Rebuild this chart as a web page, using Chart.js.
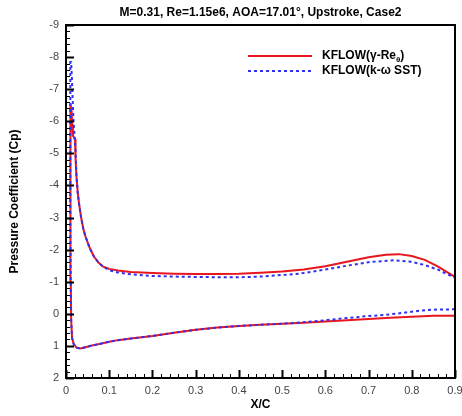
<!DOCTYPE html>
<html>
<head>
<meta charset="utf-8">
<script src="https://cdn.jsdelivr.net/npm/chart.js@4/dist/chart.umd.min.js"></script>
<style>
  html, body { margin: 0; padding: 0; background: #fff; }
  #wrap { width: 462px; height: 416px; }
</style>
</head>
<body>
<div id="wrap"><canvas id="cpChart" width="462" height="416"></canvas></div>
<script>
// KFLOW(gamma-Re_theta): lower surface TE -> LE, then upper surface LE -> TE
const redX = [0.9, 0.85, 0.8, 0.75, 0.7, 0.65, 0.6, 0.55, 0.5, 0.45, 0.4, 0.35, 0.3, 0.25, 0.2, 0.15, 0.12, 0.1, 0.08, 0.06, 0.045, 0.033, 0.025, 0.018, 0.014, 0.012, 0.011, 0.010, 0.010, 0.010, 0.011,
  0.013, 0.014, 0.016, 0.021, 0.022, 0.024, 0.027, 0.03, 0.035, 0.04, 0.045, 0.055, 0.064, 0.075, 0.086, 0.1, 0.12, 0.15, 0.2, 0.25, 0.3, 0.35, 0.4, 0.45, 0.5, 0.55, 0.6, 0.65, 0.7, 0.74, 0.77, 0.8, 0.83, 0.86, 0.9];
const redCp = [0.06, 0.06, 0.09, 0.12, 0.16, 0.2, 0.24, 0.28, 0.31, 0.34, 0.38, 0.43, 0.5, 0.59, 0.69, 0.77, 0.82, 0.87, 0.93, 0.99, 1.04, 1.08, 1.06, 0.95, 0.75, 0.2, -1, -3, -5, -6.2, -6.55,
  -6.3, -5.9, -5.55, -5.45, -4.9, -4.3, -3.8, -3.45, -3.0, -2.65, -2.41, -2.05, -1.8, -1.6, -1.47, -1.4, -1.35, -1.3, -1.27, -1.25, -1.24, -1.24, -1.25, -1.28, -1.32, -1.38, -1.48, -1.62, -1.76, -1.84, -1.86, -1.8, -1.68, -1.48, -1.15];

// KFLOW(k-omega SST)
const blueX = [0.9, 0.85, 0.82, 0.78, 0.74, 0.7, 0.65, 0.6, 0.55, 0.5, 0.45, 0.4, 0.35, 0.3, 0.25, 0.2, 0.15, 0.12, 0.1, 0.08, 0.06, 0.045, 0.033, 0.025, 0.018, 0.014, 0.012, 0.011, 0.010, 0.010, 0.010, 0.010,
  0.012, 0.014, 0.017, 0.022, 0.024, 0.027, 0.03, 0.035, 0.04, 0.045, 0.055, 0.064, 0.075, 0.086, 0.1, 0.12, 0.15, 0.2, 0.25, 0.3, 0.35, 0.4, 0.45, 0.5, 0.54, 0.6, 0.65, 0.7, 0.76, 0.8, 0.83, 0.86, 0.9];
const blueCp = [-0.14, -0.13, -0.1, -0.03, 0.03, 0.07, 0.13, 0.2, 0.26, 0.31, 0.34, 0.38, 0.43, 0.5, 0.59, 0.69, 0.77, 0.82, 0.87, 0.93, 0.99, 1.04, 1.08, 1.06, 0.95, 0.75, 0.2, -1, -3, -5, -7, -7.85,
  -7.85, -7.2, -6.1, -5.1, -4.4, -3.8, -3.45, -3.0, -2.65, -2.41, -2.05, -1.8, -1.6, -1.47, -1.36, -1.29, -1.23, -1.18, -1.16, -1.15, -1.14, -1.14, -1.16, -1.21, -1.25, -1.38, -1.5, -1.61, -1.67, -1.62, -1.52, -1.38, -1.12];

const xTicks = [0, 0.1, 0.2, 0.3, 0.4, 0.5, 0.6, 0.7, 0.8, 0.9];
const yTicks = [-9, -8, -7, -6, -5, -4, -3, -2, -1, 0, 1, 2];

const toPts = (xs, ys) => xs.map((x, i) => ({ x: x, y: ys[i] }));

// frame + inward major/minor ticks
const frameTicks = {
  id: 'frameTicks',
  afterDraw(chart) {
    const { ctx, chartArea: a, scales } = chart;
    ctx.save();
    ctx.strokeStyle = '#000';
    ctx.lineWidth = 2;
    ctx.strokeRect(a.left, a.top, a.right - a.left, a.bottom - a.top);
    // y ticks
    for (let v = -9; v <= 2.001; v += 0.2) {
      const major = Math.abs(v - Math.round(v)) < 0.01;
      const py = Math.round(scales.y.getPixelForValue(v)) + 0.5;
      ctx.lineWidth = major ? 2 : 1;
      ctx.beginPath();
      ctx.moveTo(a.left, py);
      ctx.lineTo(a.left + (major ? 8 : 4), py);
      ctx.stroke();
    }
    // x ticks
    for (let v = 0; v <= 0.9001; v += 0.02) {
      const major = Math.abs(v * 10 - Math.round(v * 10)) < 0.01;
      const px = Math.round(scales.x.getPixelForValue(v)) + 0.5;
      ctx.lineWidth = major ? 2 : 1;
      ctx.beginPath();
      ctx.moveTo(px, a.bottom);
      ctx.lineTo(px, a.bottom - (major ? 8 : 4));
      ctx.stroke();
    }
    ctx.restore();
  }
};

// legend drawn inside the plot
const innerLegend = {
  id: 'innerLegend',
  afterDraw(chart) {
    const ctx = chart.ctx;
    const ds = chart.data.datasets;
    const rows = [56, 71];
    ctx.save();
    ctx.font = 'bold 12px "Liberation Sans", Arial, sans-serif';
    ctx.textBaseline = 'middle';
    ds.forEach((d, i) => {
      const y = rows[i];
      ctx.strokeStyle = d.borderColor;
      ctx.lineWidth = 2;
      ctx.setLineDash(d.borderDash || []);
      ctx.beginPath();
      ctx.moveTo(248, y);
      ctx.lineTo(312, y);
      ctx.stroke();
      ctx.setLineDash([]);
      ctx.fillStyle = '#000';
      if (i === 0) {
        let x = 322;
        ctx.fillText('KFLOW(γ-Re', x, y);
        x += ctx.measureText('KFLOW(γ-Re').width;
        ctx.font = 'bold 8px "Liberation Sans", Arial, sans-serif';
        ctx.fillText('θ', x, y + 4);
        x += ctx.measureText('θ').width;
        ctx.font = 'bold 12px "Liberation Sans", Arial, sans-serif';
        ctx.fillText(')', x, y);
      } else {
        ctx.fillText(d.label, 322, y);
      }
    });
    ctx.restore();
  }
};

const ctx = document.getElementById('cpChart').getContext('2d');
const cpChart = new Chart(ctx, {
  type: 'scatter',
  data: {
    datasets: [{
      label: 'KFLOW(γ-Reθ)',
      data: toPts(redX, redCp),
      showLine: true,
      borderColor: '#e8161e',
      borderWidth: 2,
      pointRadius: 0,
      tension: 0,
      order: 2
    }, {
      label: 'KFLOW(k-ω SST)',
      data: toPts(blueX, blueCp),
      showLine: true,
      borderColor: '#3030f0',
      borderWidth: 2,
      borderDash: [3, 3],
      pointRadius: 0,
      tension: 0,
      order: 1
    }]
  },
  options: {
    responsive: false,
    animation: false,
    events: [],
    layout: { padding: { left: 0, right: 7, top: 0, bottom: 0 } },
    plugins: {
      legend: { display: false },
      tooltip: { enabled: false },
      title: {
        display: true,
        fullSize: false,
        text: 'M=0.31, Re=1.15e6, AOA=17.01°, Upstroke, Case2',
        color: '#000',
        font: { family: '"Liberation Sans", Arial, sans-serif', size: 12, weight: 'bold' },
        padding: { top: 5, bottom: 5.6 }
      }
    },
    scales: {
      x: {
        type: 'linear',
        min: 0,
        max: 0.9,
        afterBuildTicks: s => { s.ticks = xTicks.map(v => ({ value: v })); },
        afterFit: s => { s.height = 38; s.paddingLeft = 0; s.paddingRight = 0; },
        grid: { display: false, drawTicks: false },
        border: { display: false },
        ticks: {
          color: '#444',
          padding: 6,
          font: { family: '"Liberation Sans", Arial, sans-serif', size: 11 },
          callback: v => String(Math.round(v * 10) / 10)
        },
        title: {
          display: true,
          text: 'X/C',
          color: '#000',
          font: { family: '"Liberation Sans", Arial, sans-serif', size: 12, weight: 'bold' },
          padding: { top: 0, bottom: 4 }
        }
      },
      y: {
        type: 'linear',
        reverse: true,
        min: -9,
        max: 2,
        afterBuildTicks: s => { s.ticks = yTicks.map(v => ({ value: v })); },
        afterFit: s => { s.width = 66; s.paddingTop = 0; s.paddingBottom = 0; },
        grid: { display: false, drawTicks: false },
        border: { display: false },
        ticks: {
          color: '#444',
          padding: 7,
          font: { family: '"Liberation Sans", Arial, sans-serif', size: 11 }
        },
        title: {
          display: true,
          text: 'Pressure Coefficient (Cp)',
          color: '#000',
          font: { family: '"Liberation Sans", Arial, sans-serif', size: 12, weight: 'bold' },
          padding: { top: 7, bottom: 0 }
        }
      }
    }
  },
  plugins: [frameTicks, innerLegend]
});
</script>
</body>
</html>
